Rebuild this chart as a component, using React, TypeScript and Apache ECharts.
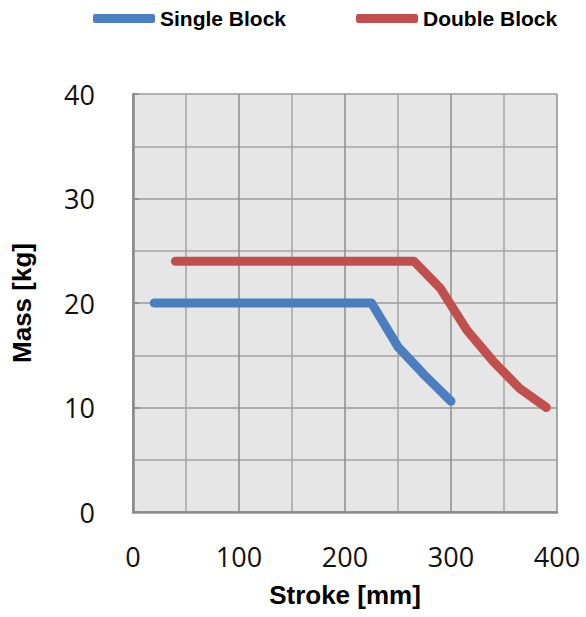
import React, { useEffect, useRef } from "react";
import * as echarts from "echarts";

const seriesNames = ["Single Block", "Double Block"];
const singleBlock: [number, number][] = [
  [20, 20], [225, 20], [250, 15.8], [275, 13.1], [300, 10.6],
];
const doubleBlock: [number, number][] = [
  [40, 24], [265, 24], [290, 21.4], [315, 17.4], [340, 14.4], [365, 11.8], [390, 10],
];
const colors = ["#4A7EBF", "#C0504D"];

export default function App() {
  const ref = useRef<HTMLDivElement>(null);
  useEffect(() => {
    if (!ref.current) return;
    const chart = echarts.init(ref.current, null, { renderer: "svg" });
    const tickFont = { fontFamily: "Open Sans", fontSize: 27, color: "#111" };
    const nameFont = { fontFamily: "Liberation Sans", fontSize: 26, fontWeight: "bold" as const, color: "#000" };
    chart.setOption({
      animation: false,
      backgroundColor: "#fff",
      legend: {
        data: seriesNames.map((n) => ({ name: n, icon: "roundRect" })),
        left: 88,
        top: 3,
        itemWidth: 62,
        itemHeight: 9,
        itemGap: 70,
        textStyle: { fontFamily: "Liberation Sans", fontSize: 21, fontWeight: "bold", color: "#000" },
      },
      grid: {
        left: 133,
        right: 29,
        top: 94,
        bottom: 105,
        show: true,
        backgroundColor: "#e6e6e6",
        borderWidth: 0,
      },
      xAxis: {
        type: "value",
        min: 0,
        max: 400,
        interval: 100,
        name: "Stroke [mm]",
        nameLocation: "middle",
        nameGap: 70,
        nameTextStyle: nameFont,
        axisLabel: { ...tickFont, margin: 31 },
        axisLine: { show: true, lineStyle: { color: "#8a8a8a", width: 2.5 } },
        axisTick: { show: false },
        splitLine: { show: true, lineStyle: { color: "#8e8e8e", width: 1.5 } },
        minorTick: { show: false, splitNumber: 2 },
        minorSplitLine: { show: true, lineStyle: { color: "#a4a4a4", width: 1.5 } },
      },
      yAxis: {
        type: "value",
        min: 0,
        max: 40,
        interval: 10,
        name: "Mass [kg]",
        nameLocation: "middle",
        nameGap: 98,
        nameTextStyle: nameFont,
        axisLabel: { ...tickFont, margin: 38 },
        axisLine: { show: true, lineStyle: { color: "#8a8a8a", width: 2.5 } },
        axisTick: { show: true, inside: true, length: 6, lineStyle: { color: "#8a8a8a", width: 1.5 } },
        splitLine: { show: true, lineStyle: { color: "#9a9a9a", width: 1.5 } },
        minorTick: { show: false, splitNumber: 2 },
        minorSplitLine: { show: true, lineStyle: { color: "#a4a4a4", width: 1.5 } },
      },
      series: [
        {
          name: seriesNames[0],
          type: "line",
          data: singleBlock,
          showSymbol: false,
          color: colors[0],
          lineStyle: { width: 9, color: colors[0], cap: "round", join: "round" },
        },
        {
          name: seriesNames[1],
          type: "line",
          data: doubleBlock,
          showSymbol: false,
          color: colors[1],
          lineStyle: { width: 9, color: colors[1], cap: "round", join: "round" },
        },
      ],
    });
    return () => chart.dispose();
  }, []);
  return <div ref={ref} style={{ width: 586, height: 617, position: "absolute", left: 0, top: 0 }} />;
}
